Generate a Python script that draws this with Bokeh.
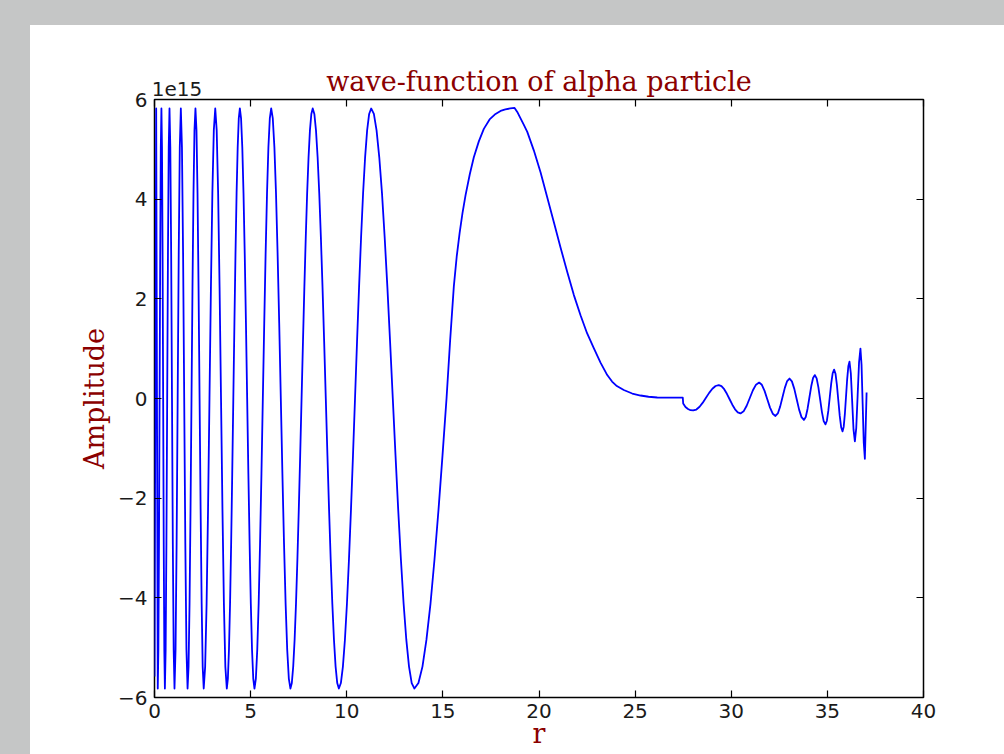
from bokeh.plotting import figure
from bokeh.models import LinearAxis, FixedTicker, Range1d
from bokeh.embed import file_html
from bokeh.resources import INLINE

# ---- data (amplitude in units of 1e15) ----
# inner oscillating region, r = 0 .. 13.52
r_core = [0.00, 0.088, 0.17,
          0.202, 0.233, 0.265, 0.297, 0.328, 0.36,
          0.39, 0.42, 0.45, 0.48, 0.51, 0.54,
          0.58, 0.62, 0.66, 0.70, 0.74, 0.78,
          0.823, 0.867, 0.91, 0.953, 0.997, 1.04,
          1.095, 1.15, 1.205, 1.26, 1.315, 1.37,
          1.428, 1.487, 1.545, 1.603, 1.662, 1.72,
          1.771, 1.823, 1.874, 1.925, 1.976, 2.028, 2.079, 2.13,
          2.184, 2.238, 2.291, 2.345, 2.399, 2.453, 2.506, 2.56,
          2.635, 2.71, 2.785, 2.86, 2.935, 3.01, 3.085, 3.16,
          3.235, 3.31, 3.385, 3.46, 3.535, 3.61, 3.685, 3.76,
          3.817, 3.873, 3.93, 3.987, 4.043, 4.10, 4.157, 4.213, 4.27, 4.327, 4.383, 4.44,
          4.503, 4.567, 4.63, 4.693, 4.757, 4.82, 4.883, 4.947, 5.01, 5.073, 5.137, 5.20,
          5.273, 5.345, 5.418, 5.49, 5.563, 5.635, 5.708, 5.78, 5.853, 5.925, 5.998, 6.07,
          6.153, 6.237, 6.32, 6.403, 6.487, 6.57, 6.653, 6.737, 6.82, 6.903, 6.987, 7.07,
          7.143, 7.215, 7.288, 7.36, 7.433, 7.505, 7.578, 7.65,
          7.723, 7.795, 7.868, 7.94, 8.013, 8.085, 8.158, 8.23,
          8.315, 8.40, 8.485, 8.57, 8.655, 8.74, 8.825, 8.91,
          8.995, 9.08, 9.165, 9.25, 9.335, 9.42, 9.505, 9.59,
          9.695, 9.80, 9.905, 10.01, 10.115, 10.22, 10.325, 10.43,
          10.535, 10.64, 10.745, 10.85, 10.955, 11.06, 11.165, 11.27,
          11.411, 11.551, 11.692, 11.833, 11.973, 12.114, 12.254, 12.395,
          12.536, 12.676, 12.817, 12.958, 13.098, 13.239, 13.379, 13.52]
amp_core = [-5.58, 5.82, -5.82,
            -5.04, -2.91, 0.0, 2.91, 5.04, 5.82,
            5.04, 2.91, 0.0, -2.91, -5.04, -5.82,
            -5.04, -2.91, 0.0, 2.91, 5.04, 5.82,
            5.04, 2.91, 0.0, -2.91, -5.04, -5.82,
            -5.04, -2.91, 0.0, 2.91, 5.04, 5.82,
            5.04, 2.91, 0.0, -2.91, -5.04, -5.82,
            -5.38, -4.12, -2.23, 0.0, 2.23, 4.12, 5.38, 5.82,
            5.38, 4.12, 2.23, 0.0, -2.23, -4.12, -5.38, -5.82,
            -5.38, -4.12, -2.23, 0.0, 2.23, 4.12, 5.38, 5.82,
            5.38, 4.12, 2.23, 0.0, -2.23, -4.12, -5.38, -5.82,
            -5.62, -5.04, -4.12, -2.91, -1.51, 0.0, 1.51, 2.91, 4.12, 5.04, 5.62, 5.82,
            5.62, 5.04, 4.12, 2.91, 1.51, 0.0, -1.51, -2.91, -4.12, -5.04, -5.62, -5.82,
            -5.62, -5.04, -4.12, -2.91, -1.51, 0.0, 1.51, 2.91, 4.12, 5.04, 5.62, 5.82,
            5.62, 5.04, 4.12, 2.91, 1.51, 0.0, -1.51, -2.91, -4.12, -5.04, -5.62, -5.82,
            -5.71, -5.38, -4.84, -4.12, -3.23, -2.23, -1.14, 0.0,
            1.14, 2.23, 3.23, 4.12, 4.84, 5.38, 5.71, 5.82,
            5.71, 5.38, 4.84, 4.12, 3.23, 2.23, 1.14, 0.0,
            -1.14, -2.23, -3.23, -4.12, -4.84, -5.38, -5.71, -5.82,
            -5.71, -5.38, -4.84, -4.12, -3.23, -2.23, -1.14, 0.0,
            1.14, 2.23, 3.23, 4.12, 4.84, 5.38, 5.71, 5.82,
            5.71, 5.38, 4.84, 4.12, 3.23, 2.23, 1.14, 0.0,
            -1.14, -2.23, -3.23, -4.12, -4.84, -5.38, -5.71, -5.82]

# barrier peak and decay, r = 13.7 .. 27.48
r_barrier = [13.729, 13.938, 14.146, 14.355, 14.564, 14.773, 14.981, 15.19,
             15.38, 15.57, 15.72, 15.87, 16.02, 16.18,
             16.40, 16.61, 16.87, 17.13, 17.43, 17.74,
             18.00, 18.25, 18.50, 18.73, 18.87, 19.00,
             19.20, 19.39, 19.73, 20.08, 20.42, 20.77,
             21.12, 21.47, 21.81, 22.16, 22.50, 22.85,
             23.20, 23.55, 23.80, 24.05, 24.41, 24.85,
             25.28, 25.70, 26.15, 26.80, 27.48]
amp_barrier = [-5.71, -5.38, -4.84, -4.12, -3.23, -2.23, -1.14, 0.0,
               1.18, 2.25, 2.85, 3.32, 3.72, 4.08,
               4.50, 4.84, 5.16, 5.41, 5.60, 5.71,
               5.77, 5.80, 5.82, 5.83, 5.75, 5.65,
               5.50, 5.35, 4.98, 4.54, 4.05, 3.54,
               3.03, 2.54, 2.08, 1.67, 1.31, 1.01,
               0.72, 0.47, 0.34, 0.25, 0.17, 0.10,
               0.06, 0.035, 0.02, 0.017, 0.016]

# outer oscillating tail, r = 27.5 .. 37.04
r_tail = [27.50, 27.62, 27.75, 27.88, 28.02,
          28.186, 28.353, 28.519, 28.685, 28.851, 29.018, 29.184, 29.35,
          29.491, 29.633, 29.774, 29.915, 30.056, 30.198, 30.339, 30.48,
          30.642, 30.803, 30.965, 31.127, 31.288, 31.45,
          31.592, 31.733, 31.875, 32.017, 32.158, 32.30,
          32.422, 32.543, 32.665, 32.787, 32.908, 33.03,
          33.155, 33.28, 33.405, 33.53, 33.655, 33.78,
          33.875, 33.97, 34.065, 34.16, 34.255, 34.35,
          34.442, 34.533, 34.625, 34.717, 34.808, 34.90,
          34.975, 35.05, 35.125, 35.20, 35.275, 35.35,
          35.423, 35.497, 35.57, 35.643, 35.717, 35.79,
          35.85, 35.91, 35.97, 36.03, 36.09, 36.15,
          36.22, 36.29, 36.36, 36.43,
          36.5025, 36.575, 36.6475, 36.72,
          36.7775, 36.835, 36.8925, 36.95,
          37.04]
amp_tail = [-0.10, -0.17, -0.21, -0.235, -0.24,
            -0.221, -0.165, -0.083, 0.015, 0.113, 0.195, 0.251, 0.27,
            0.248, 0.187, 0.094, -0.015, -0.124, -0.217, -0.278, -0.30,
            -0.258, -0.145, 0.01, 0.165, 0.278, 0.32,
            0.275, 0.153, -0.015, -0.183, -0.305, -0.35,
            -0.300, -0.163, 0.025, 0.213, 0.350, 0.40,
            0.344, 0.193, -0.015, -0.223, -0.374, -0.43,
            -0.370, -0.205, 0.02, 0.245, 0.410, 0.47,
            0.404, 0.223, -0.025, -0.273, -0.454, -0.52,
            -0.446, -0.245, 0.03, 0.305, 0.506, 0.58,
            0.497, 0.27, -0.04, -0.35, -0.577, -0.66,
            -0.566, -0.31, 0.04, 0.39, 0.646, 0.74,
            0.506, -0.06, -0.626, -0.86,
            -0.588, 0.07, 0.728, 1.00,
            0.676, -0.105, -0.886, -1.21,
            0.12]

x_ticks = [0, 5, 10, 15, 20, 25, 30, 35, 40]
y_ticks = [-6, -4, -2, 0, 2, 4, 6]
y_tick_labels = {-6: "\u22126", -4: "\u22124", -2: "\u22122", 0: "0", 2: "2", 4: "4", 6: "6"}
title_text = "wave-function of alpha particle"
x_label = "r"
y_label = "Amplitude"
offset_text = "1e15"

assert len(r_core) == len(amp_core)
assert len(r_barrier) == len(amp_barrier)
assert len(r_tail) == len(amp_tail)
r_all = r_core + r_barrier + r_tail
amp_all = amp_core + amp_barrier + amp_tail

RED = "#8b0000"
GRAY = "#c5c6c6"
TICK_FONT = "DejaVu Sans"
LABEL_FONT = "DejaVu Serif"

p = figure(width=966, height=726, output_backend="svg", toolbar_location=None,
           x_range=Range1d(0, 40), y_range=Range1d(-6, 6),
           min_border_left=124, min_border_right=73, min_border_top=74,
           min_border_bottom=53, title=title_text)
p.margin = (25, 0, 0, 30)
p.styles = {"box-shadow": (f"-30px 0 0 0 {GRAY}, 0 -25px 0 0 {GRAY}, "
                           f"-30px -25px 0 0 {GRAY}, 308px -426px 0 -300px {GRAY}, "
                           f"-666px 308px 0 -300px {GRAY}")}

p.background_fill_color = "white"
p.border_fill_color = "white"
p.outline_line_color = "black"
p.outline_line_width = 1.5
p.grid.visible = False

p.title.text_font = LABEL_FONT
p.title.text_font_size = "27px"
p.title.text_font_style = "normal"
p.title.text_color = RED
p.title.align = "center"
p.title.standoff = -36
p.title.offset = 0

p.line(r_all, amp_all, line_color="#0000ff", line_width=1.8, line_join="round")


def style_ticks(ax):
    ax.axis_line_color = None
    ax.major_tick_in = 7
    ax.major_tick_out = 0
    ax.major_tick_line_color = "black"
    ax.major_tick_line_width = 1.2
    ax.minor_tick_line_color = None


xa = p.xaxis[0]
ya = p.yaxis[0]
xa.ticker = FixedTicker(ticks=x_ticks)
ya.ticker = FixedTicker(ticks=y_ticks)
for ax in (xa, ya):
    style_ticks(ax)
    ax.major_label_text_font = TICK_FONT
    ax.major_label_text_font_size = "20px"
    ax.major_label_text_color = "#1a1a1a"
    ax.axis_label_text_font = LABEL_FONT
    ax.axis_label_text_font_size = "27px"
    ax.axis_label_text_font_style = "normal"
    ax.axis_label_text_color = RED
xa.major_label_standoff = 6
ya.major_label_standoff = 7
ya.major_label_overrides = y_tick_labels
xa.axis_label = x_label
xa.axis_label_standoff = -3
ya.axis_label = y_label
ya.axis_label_standoff = 5

# right axis: tick marks only
right_ax = LinearAxis(ticker=FixedTicker(ticks=y_ticks))
style_ticks(right_ax)
right_ax.major_label_text_color = None
right_ax.major_label_text_font_size = "0px"
right_ax.major_label_standoff = 0
p.add_layout(right_ax, "right")

# top axis: tick marks (as minor ticks) plus the "1e15" scale note
top_ax = LinearAxis(ticker=FixedTicker(ticks=[1.17], minor_ticks=x_ticks))
top_ax.axis_line_color = None
top_ax.major_tick_line_color = None
top_ax.minor_tick_in = 7
top_ax.minor_tick_out = 0
top_ax.minor_tick_line_color = "black"
top_ax.minor_tick_line_width = 1.2
top_ax.major_label_overrides = {1.17: offset_text}
top_ax.major_label_text_font = TICK_FONT
top_ax.major_label_text_font_size = "20px"
top_ax.major_label_text_color = "#1a1a1a"
top_ax.major_label_standoff = -2
p.add_layout(top_ax, "above")

open("out.html", "w").write(file_html(p, INLINE))
